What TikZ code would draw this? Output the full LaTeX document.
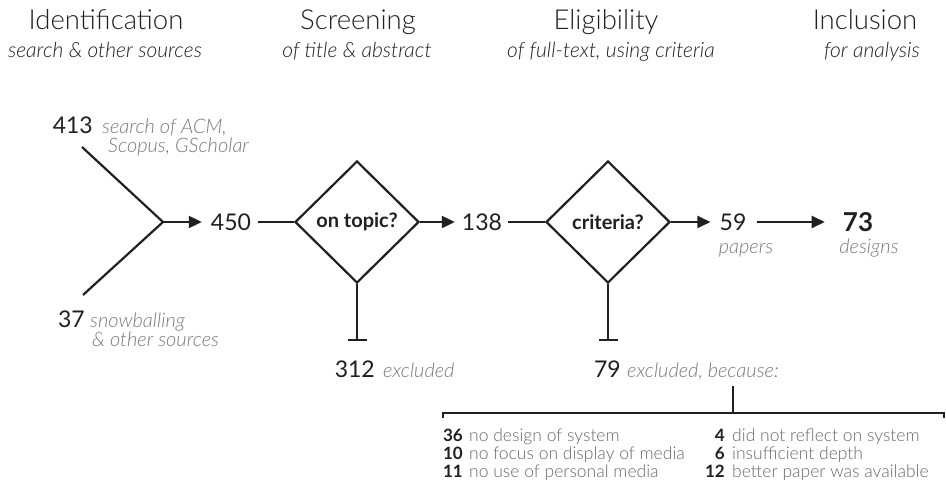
\documentclass[tikz,border=0pt]{standalone}
\usepackage{fontspec}
\setmainfont{Lato}
\newfontfamily\lightfont{Lato Light}
\usetikzlibrary{arrows.meta,shapes.geometric}
\definecolor{ink}{HTML}{231F20}
\definecolor{note}{HTML}{7A7A7A}
\tikzset{
  flow/.style={draw=ink, line width=2.2pt},
  arr/.style={flow, -{Triangle[length=13pt,width=12pt]}},
  stopbar/.style={flow, -{Bar[width=19pt,line width=2.2pt]}},
  head/.style={text=ink, font=\lightfont\fontsize{27.5}{29}\selectfont, inner sep=0pt, anchor=base},
  sub/.style={text=ink, font=\lightfont\itshape\fontsize{21}{23}\selectfont, inner sep=0pt, anchor=base},
  num/.style={text=ink, font=\fontsize{23}{25}\selectfont, inner sep=0pt},
  bignum/.style={text=ink, font=\bfseries\fontsize{26}{28}\selectfont, inner sep=0pt},
  cmt/.style={text=note, font=\lightfont\itshape\fontsize{20}{22}\selectfont, inner sep=0pt},
  decide/.style={diamond, draw=ink, line width=2.2pt, minimum width=124pt, minimum height=122pt, inner sep=0pt, text=ink, font=\bfseries\fontsize{20}{22}\selectfont},
  rnum/.style={text=ink, font=\bfseries\fontsize{17}{19}\selectfont, inner sep=0pt, anchor=base east},
  rtxt/.style={text=note!85!black, font=\lightfont\fontsize{17.5}{19}\selectfont, inner sep=0pt, anchor=base west},
}
\begin{document}
\begin{tikzpicture}[x=1pt,y=-1pt]
\useasboundingbox[fill=white] (0,0) rectangle (946,487);

% stage headings
\node[head] (h1) at (106,30) {Identification};
\node[sub]  (s1) at (105,58) {search \& other sources};
\node[head] (h2) at (358,30) {Screening};
\node[sub]  (s2) at (357,58) {of title \& abstract};
\node[head] (h3) at (606,30) {Eligibility};
\node[sub]  (s3) at (611,58) {of full-text, using criteria};
\node[head] (h4) at (865,30) {Inclusion};
\node[sub]  (s4) at (872,58) {for analysis};

% identification sources
\node[num, anchor=base east] (n413) at (93,133) {413};
\node[cmt, anchor=base west] (c413a) at (102,133) {search of ACM,};
\node[cmt, anchor=base west] (c413b) at (108,153) {Scopus, GScholar};
\node[num, anchor=base east] (n37) at (85,327) {37};
\node[cmt, anchor=base west] (c37a) at (90,327) {snowballing};
\node[cmt, anchor=base west] (c37b) at (92,346) {\& other sources};
\coordinate (src1) at (82,147);
\coordinate (src2) at (83,295);
\coordinate (merge) at (163,222);

% main flow
\node[num] (n450) at (231,222) {450};
\node[decide] (d1) at (357,222) {on topic?};
\node[num] (n138) at (482,222) {138};
\node[decide] (d2) at (608,222) {criteria?};
\node[num] (n59) at (733,222) {59};
\node[cmt, anchor=base] (c59) at (746,253) {papers};
\node[bignum] (n73) at (858,222) {73};
\node[cmt, anchor=base] (c73) at (869,253) {designs};

\draw[flow] (src1) -- (merge) -- (src2);
\draw[arr, shorten >=9pt] (merge) -- (n450.west);
\draw[flow] ([xshift=7pt]n450.east) -- (d1.west);
\draw[arr, shorten >=7pt] (d1.east) -- (n138.west);
\draw[flow] ([xshift=6pt]n138.east) -- (d2.west);
\draw[arr, shorten >=9pt] (d2.east) -- (n59.west);
\draw[arr, shorten >=18pt] ([xshift=10pt]n59.east) -- (n73.west);

% exclusions
\coordinate (x1) at (357,341);
\coordinate (x2) at (608,341);
\draw[stopbar] (d1.south) -- (x1);
\draw[stopbar] (d2.south) -- (x2);
\node[num, anchor=base east] (n312) at (375,377) {312};
\node[cmt, anchor=base west] (c312) at (383,377) {excluded};
\node[num, anchor=base east] (n79) at (621,377) {79};
\node[cmt, anchor=base west] (c79) at (627,377) {excluded, because:};

% reasons bracket
\coordinate (bt) at (733,386);
\coordinate (bm) at (733,413);
\coordinate (bl) at (443,418);
\coordinate (br) at (944,418);
\draw[draw=ink, line width=1.3pt] (bt) -- (bm);
\draw[draw=ink, line width=1.3pt] (bl) |- (bm) -| (br);

% reasons list
\node[rnum] (r1n) at (463,441) {36};
\node[rtxt] (r1t) at (469,441) {no design of system};
\node[rnum] (r2n) at (463,459) {10};
\node[rtxt] (r2t) at (469,459) {no focus on display of media};
\node[rnum] (r3n) at (463,477) {11};
\node[rtxt] (r3t) at (469,477) {no use of personal media};
\node[rnum] (r4n) at (725,441) {4};
\node[rtxt] (r4t) at (732,441) {did not reflect on system};
\node[rnum] (r5n) at (725,459) {6};
\node[rtxt] (r5t) at (732,459) {insufficient depth};
\node[rnum] (r6n) at (725,477) {12};
\node[rtxt] (r6t) at (732,477) {better paper was available};
\end{tikzpicture}
\end{document}
